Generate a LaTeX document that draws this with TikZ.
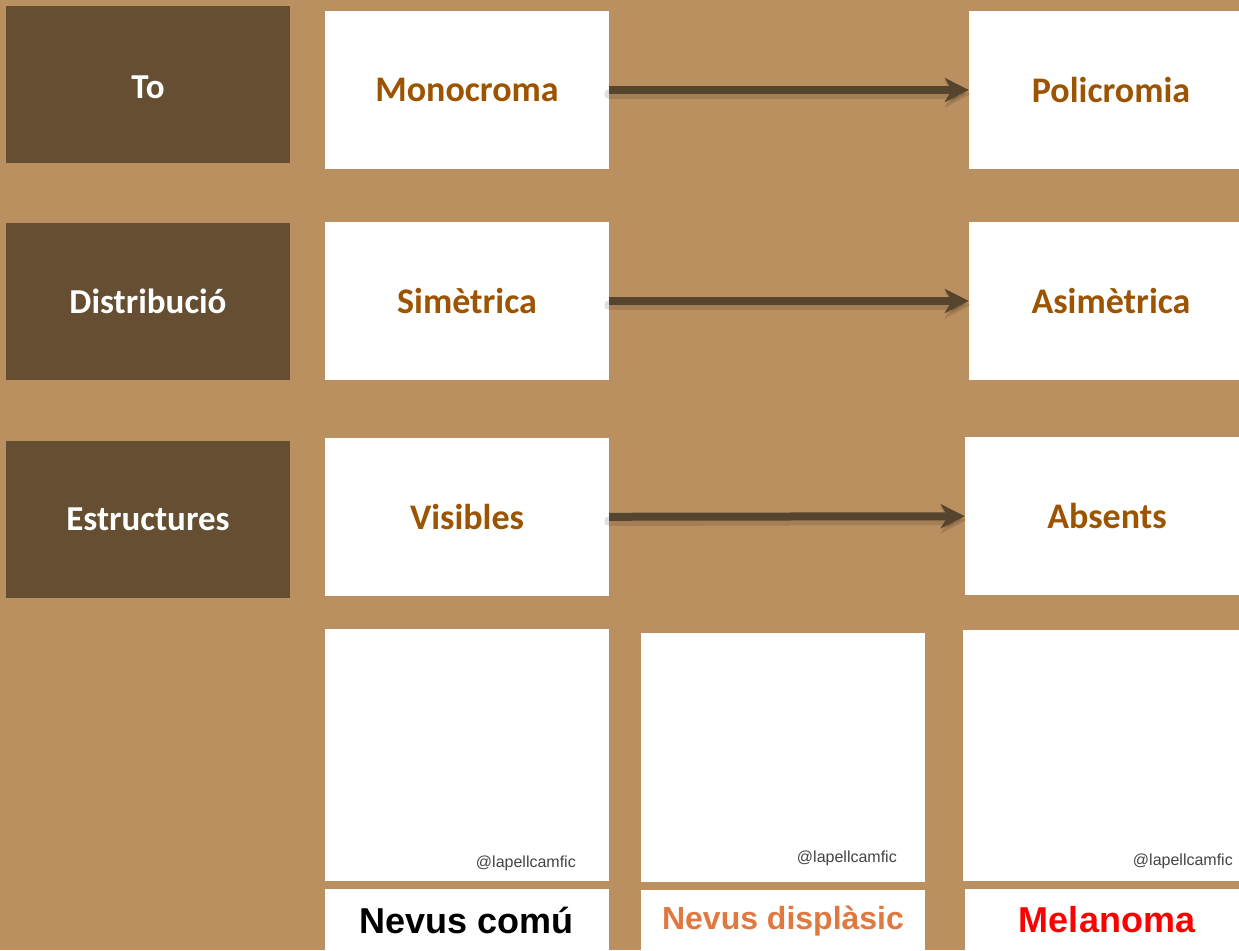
\documentclass[tikz,border=0pt]{standalone}
\usepackage{fontspec}
\setmainfont{Carlito}
\newfontfamily\arialfont{Liberation Sans}
\usetikzlibrary{arrows.meta}
\definecolor{bg}{HTML}{BB9060}
\definecolor{dark}{HTML}{654E32}
\definecolor{txt}{HTML}{9C5400}
\definecolor{arr}{HTML}{55442E}
\definecolor{orng}{HTML}{E07840}
\definecolor{wm}{HTML}{444444}
\begin{document}
\begin{tikzpicture}[x=1pt,y=-1pt,
  cat/.style={fill=dark, text=white, font=\fontsize{35}{40}\selectfont\bfseries, inner sep=0pt, minimum width=284pt, minimum height=157pt},
  val/.style={fill=white, text=txt, font=\fontsize{36}{40}\selectfont\bfseries, inner sep=0pt, minimum width=284pt, minimum height=158pt},
  img/.style={fill=white, inner sep=0pt, minimum width=284pt},
  lbl/.style={fill=white, font=\arialfont\fontsize{36}{40}\selectfont\bfseries, inner sep=0pt, minimum width=284pt, minimum height=62pt},
  wmark/.style={text=wm, font=\arialfont\fontsize{16}{18}\selectfont, inner sep=0pt, anchor=east},
  conn/.style={draw=arr, line width=8pt, -{Stealth[length=24pt,width=24pt,inset=7pt]}},
  connshadow/.style={draw=black, opacity=0.12, line width=10pt, line cap=round, -{Stealth[length=26pt,width=27pt,inset=7pt]}}
]
\fill[bg] (0,0) rectangle (1239,950);
\useasboundingbox (0,0) rectangle (1239,950);
\clip (0,0) rectangle (1239,950);

% category boxes
\node[cat, text height=27pt, text depth=0pt] (to) at (148,84.5) {To};
\node[cat] (dist) at (148,301)  {Distribució};
\node[cat] (estr) at (148,519)  {Estructures};

% values
\node[val] (mono) at (467,90)  {Monocroma};
\node[val] (sime) at (467,301) {Simètrica};
\node[val] (visi) at (467,517) {Visibles};
\node[val] (poli) at (1111,90)  {Policromia};
\node[val] (asim) at (1111,301) {Asimètrica};
\node[val] (abse) at (1107,516) {Absents};

% arrows (shadow then arrow)
\draw[connshadow] ([yshift=-4pt]mono.east) -- ([yshift=-4pt,xshift=2pt]poli.west);
\draw[connshadow] ([yshift=-4pt]sime.east) -- ([yshift=-4pt,xshift=2pt]asim.west);
\draw[connshadow] ([yshift=-4pt]visi.east) -- ([yshift=-4pt,xshift=2pt]abse.west);
\draw[conn] (mono) -- (poli);
\draw[conn] (sime) -- (asim);
\draw[conn] (visi) -- (abse);

% image panels
\node[img, minimum height=252pt] (img1) at (467,755)   {};
\node[img, minimum height=249pt] (img2) at (783,757.5) {};
\node[img, minimum height=251pt] (img3) at (1105,755.5) {};
\node[wmark] (wm1) at (576,863) {@lapellcamfic};
\node[wmark] (wm2) at (897,858) {@lapellcamfic};
\node[wmark] (wm3) at (1233,861) {@lapellcamfic};

% labels
\node[lbl, text=black] (l1) at (467,920)  {Nevus comú};
\node[lbl, text=orng, font=\arialfont\fontsize{32}{38}\selectfont\bfseries]  (l2) at (783,921)  {Nevus displàsic};
\node[lbl, text=red]   (l3) at (1107,920) {Melanoma};
\end{tikzpicture}
\end{document}
